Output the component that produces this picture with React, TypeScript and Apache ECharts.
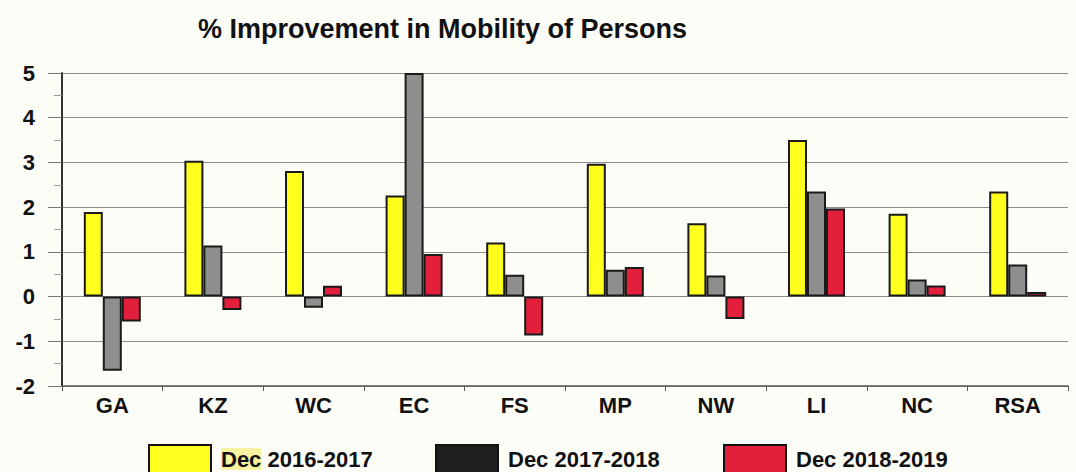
import React, { useEffect, useRef } from "react";
import * as echarts from "echarts";

const categories = ["GA", "KZ", "WC", "EC", "FS", "MP", "NW", "LI", "NC", "RSA"];
const s2016 = [1.89, 3.04, 2.81, 2.26, 1.21, 2.97, 1.64, 3.5, 1.85, 2.35];
const s2017 = [-1.66, 1.14, -0.25, 5.0, 0.49, 0.6, 0.47, 2.35, 0.38, 0.72];
const s2018 = [-0.56, -0.3, 0.24, 0.95, -0.87, 0.66, -0.5, 1.97, 0.25, 0.1];
const seriesNames = ["Dec 2016-2017", "Dec 2017-2018", "Dec 2018-2019"];
const colors = ["#ffff1e", "#8e8e8e", "#e2203c"];
const legendColors = ["#ffff1e", "#1e1e1e", "#e2203c"];
const legendLeft = [148, 435, 723];

export default function App() {
  const ref = useRef<HTMLDivElement>(null);
  useEffect(() => {
    document.body.style.margin = "0";
    const chart = echarts.init(ref.current!, null, { renderer: "svg" });
    const font = "Arial, 'Liberation Sans', sans-serif";
    const values = [s2016, s2017, s2018];
    chart.setOption({
      animation: false,
      backgroundColor: "#fdfdf8",
      title: {
        text: "% Improvement in Mobility of Persons",
        left: 193,
        top: 10,
        textStyle: { fontFamily: font, fontWeight: "bold", fontSize: 27, color: "#111" },
      },
      legend: seriesNames.map((n, i) => ({
        left: legendLeft[i],
        top: 444,
        padding: 0,
        icon: "rect",
        itemWidth: 62,
        itemHeight: 28,
        itemGap: 0,
        data: [{ name: n, itemStyle: { color: legendColors[i], borderColor: "#111", borderWidth: 2 } }],
        formatter: (name: string) =>
          i === 0 ? "{hl|Dec}{t| 2016-2017}" : "{t|" + name + "}",
        textStyle: {
          rich: {
            hl: { backgroundColor: "#f8f3a0", fontFamily: font, fontWeight: "bold", fontSize: 22, lineHeight: 22, color: "#111" },
            t: { fontFamily: font, fontWeight: "bold", fontSize: 22, lineHeight: 22, color: "#111" },
          },
          padding: [0, 0, 0, 5],
        },
      })),
      grid: { left: 62, right: 8, top: 73, bottom: 86 },
      xAxis: {
        type: "category",
        data: categories,
        boundaryGap: true,
        axisLine: { onZero: false, lineStyle: { color: "#555", width: 1.5 } },
        axisTick: { show: true, length: 5, lineStyle: { color: "#555" } },
        axisLabel: { fontFamily: font, fontWeight: "bold", fontSize: 22, color: "#111", margin: 8 },
      },
      yAxis: {
        type: "value",
        min: -2,
        max: 5,
        interval: 1,
        axisLine: { show: true, lineStyle: { color: "#333", width: 2 } },
        axisTick: { show: true, length: 14, lineStyle: { color: "#777" } },
        minorTick: { show: true, splitNumber: 2, length: 8, lineStyle: { color: "#999" } },
        splitLine: { show: true, lineStyle: { color: "#8a8a8a", width: 1 } },
        axisLabel: { fontFamily: font, fontWeight: "bold", fontSize: 22, color: "#111", margin: 27 },
      },
      series: seriesNames.map((n, i) => ({
        name: n,
        type: "bar",
        data: values[i],
        barWidth: 19,
        barGap: "0%",
        itemStyle: { color: colors[i], borderColor: "#1a1a1a", borderWidth: 2 },
      })),
    });
    return () => chart.dispose();
  }, []);
  return <div ref={ref} style={{ width: 1076, height: 472 }} />;
}
